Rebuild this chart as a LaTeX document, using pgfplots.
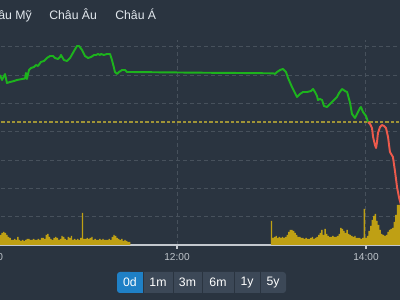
\documentclass[border=0pt]{standalone}
\usepackage{pgfplots}
\pgfplotsset{compat=1.18}
\usepackage{fontspec}
\setmainfont{Liberation Sans}
\definecolor{bg}{HTML}{2A3440}
\definecolor{gridc}{HTML}{47515C}
\definecolor{axisc}{HTML}{C3C8CE}
\definecolor{ticklab}{HTML}{BEC4CA}
\definecolor{refy}{HTML}{A09436}
\definecolor{volc}{HTML}{BFA014}
\definecolor{upgreen}{HTML}{1DB31D}
\definecolor{downred}{HTML}{EC5A4C}
\definecolor{tabtext}{HTML}{E2E8EE}
\definecolor{btngray}{HTML}{3C4857}
\definecolor{btnblue}{HTML}{1F80C6}
\begin{document}
\begin{tikzpicture}
\fill[bg] (0,0) rectangle (300pt,225pt);
\begin{axis}[
  at={(-14.89pt,41.25pt)}, anchor=south west,
  scale only axis, width=314.9pt, height=153.75pt,
  xmin=55, xmax=321.6, ymin=0, ymax=205,
  enlargelimits=false,
  axis lines*=left,
  x axis line style={color=axisc, line width=1.1pt},
  y axis line style={draw=none},
  xtick={61.5,180,300}, xticklabels={10:00,12:00,14:00},
  ytick={28.3,56.6,84.9,113.2,141.5,169.8,198.1},
  yticklabels={},
  ytick style={draw=none},
  xtick style={color=axisc, line width=0.8pt},
  tick align=outside, major tick length=3pt,
  xticklabel style={font=\fontsize{7.6}{9}\selectfont, text=ticklab},
  grid=major,
  major grid style={dash pattern=on 3pt off 2.25pt, color=gridc, line width=0.75pt},
]
% volume, morning session (minutes after 9:00)
\addplot[ybar, bar shift=0pt, bar width=1.05pt, fill=volc, draw=none] coordinates {
(68,10)(69,12)(70,13)(71,12)(72,10)(73,8)(74,7)(75,5)(76,5)(77,6)
(78,5)(79,8)(80,5)(81,4)(82,5)(83,4)(84,5)(85,6)(86,6)(87,5)
(88,5)(89,6)(90,5)(91,5)(92,6)(93,5)(94,7)(95,7)(96,6)(97,10)
(98,11)(99,8)(100,6)(101,5)(102,7)(103,8)(104,7)(105,5)(106,6)(107,9)
(108,8)(109,6)(110,5)(111,8)(112,7)(113,9)(114,5)(115,6)(116,5)(117,6)
(118,5)(119,7)(120,32)(121,6)(122,6)(123,7)(124,6)(125,7)(126,8)(127,5)
(128,6)(129,5)(130,5)(131,6)(132,5)(133,6)(134,5)(135,5)(136,5)(137,6)
(138,5)(139,8)(140,10)(141,9)(142,7)(143,6)(144,5)(145,6)(146,4)(147,5)
(148,4)(149,3)(150,3)};
% volume, afternoon session
\addplot[ybar, bar shift=0pt, bar width=1.05pt, fill=volc, draw=none] coordinates {
(240,24)(241,7)(242,8)(243,9)(244,7)(245,8)(246,7)(247,8)(248,7)(249,8)
(250,10)(251,13)(252,15)(253,15)(254,14)(255,12)(256,10)(257,8)(258,8)(259,7)
(260,7)(261,6)(262,7)(263,6)(264,6)(265,7)(266,8)(267,6)(268,7)(269,8)
(270,10)(271,12)(272,15)(273,10)(274,16)(275,11)(276,9)(277,8)(278,8)(279,9)
(280,8)(281,8)(282,9)(283,11)(284,17)(285,16)(286,14)(287,12)(288,15)(289,11)
(290,10)(291,9)(292,8)(293,9)(294,7)(295,7)(296,7)(297,6)(298,7)(299,36)
(300,7)(301,9)(302,14)(303,19)(304,25)(305,29)(306,31)(307,24)(308,20)(309,15)
(310,11)(311,10)(312,9)(313,10)(314,13)(315,15)(316,16)(317,17)(318,23)(319,30)
(320,40)(321,40)};
% reference (previous close)
\addplot[refy, line width=0.9pt, dash pattern=on 2.5pt off 1.5pt] coordinates {(55,123) (321.6,123)};
% price above reference
\addplot[upgreen, line width=1.45pt, line join=round] coordinates {
(67.6,170)(68.9,165)(70.8,171)(72.0,162)(74.0,163)(76.5,164)(78.4,165)(81.6,166)
(83.5,166.5)(84.1,172)(84.7,166)(86.0,175)(87.3,177)(89.2,178)(90.5,180)(91.7,179)
(93.6,183)(95.5,184)(97.4,187)(99.4,189)(101.3,189)(102.5,187)(104.4,186)(105.7,188)
(106.3,190)(108.2,185)(110.1,184)(112.1,187)(114.6,194)(116.5,199)(117.8,199)(119.7,195)
(121.6,189)(123.5,187)(125.4,188)(127.3,190)(128.6,190)(129.8,191)(131.1,190)(131.7,191)
(133.6,190)(135.5,191)(137.5,191)(138.7,185)(140.0,177)(140.6,173)(141.9,171)(143.2,173)
(145.1,175)(147.0,175)(148.2,173)(149.5,173)(150.2,173)(194.6,172.3)(220.0,172)(239.7,171.7)
(241.6,171.5)(242.2,171)(243.5,173)(245.4,175)(247.3,176)(249.2,173)(250.5,167)(253.0,158)
(254.9,152)(256.2,148)(258.1,151)(260.0,153)(262.6,153)(265.1,154)(266.4,156)(267.6,153)
(268.9,149)(269.5,145)(270.8,146)(272.1,145)(273.3,139)(275.2,138)(277.2,141)(279.1,144)
(281.6,148)(282.9,152)(284.8,156)(286.7,154)(288.0,153)(289.9,142)(291.1,131)(293.0,127)
(294.9,133)(296.2,137)(296.8,138)(298.1,133)(300.0,129)(301.3,123)};
% price below reference
\addplot[downred, line width=1.45pt, line join=round] coordinates {
(301.3,123)(302.6,121)(303.8,117)(304.5,108)(305.7,100)(306.4,97)(307.0,103)(307.6,112)
(308.9,118)(310.2,120)(311.4,119)(312.7,117)(314.0,108)(315.2,93)(317.1,88)(318.4,74)
(319.7,58)(320.9,48)(322.2,40)};
\end{axis}
% region tabs
\begin{scope}[every node/.style={inner sep=0pt, text=tabtext, font=\fontsize{9.2}{11}\selectfont}]
\node[anchor=base east] at (24pt,210pt) {Châu Mỹ};
\node[anchor=base west] at (36.75pt,210pt) {Châu Âu};
\node[anchor=base west] at (86.25pt,210pt) {Châu Á};
\end{scope}
% range buttons
\fill[btngray, rounded corners=2.25pt] (87.75pt,5.25pt) rectangle (214.5pt,21pt);
\fill[btnblue, rounded corners=2.25pt] (87.75pt,5.25pt) rectangle (100pt,21pt);
\fill[btnblue] (95pt,5.25pt) rectangle (107.25pt,21pt);
\foreach \xx in {107.25,129.75,151.5,175.5,195}{
  \draw[bg, line width=0.75pt] (\xx pt,5.25pt) -- (\xx pt,21pt);
}
\begin{scope}[every node/.style={inner sep=0pt, text=white, font=\fontsize{9.2}{11}\selectfont}]
\node at (97.5pt,13.1pt) {0d};
\node at (118.5pt,13.1pt) {1m};
\node at (140.6pt,13.1pt) {3m};
\node at (163.5pt,13.1pt) {6m};
\node at (185.25pt,13.1pt) {1y};
\node at (204.75pt,13.1pt) {5y};
\end{scope}
\pgfresetboundingbox
\useasboundingbox (0,0) rectangle (300pt,225pt);
\end{tikzpicture}
\end{document}
